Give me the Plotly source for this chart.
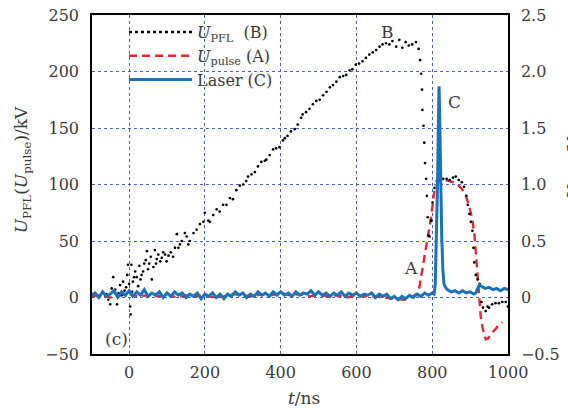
import plotly.graph_objects as go

# ---------------- data ----------------
# U_PFL (B), kV  (scatter of dots)
T_PFL = [-60, -55, -50, -46, -42, -37, -32, -28, -24, -20, -16, -12, -8, -5, -3, 0, 3, 4, 6, 8,
         10, 13, 16, 20, 24, 27, 30, 33, 37, 40, 44, 47, 50, 53, 57, 60, 64, 68, 71, 73,
         77, 82, 86, 90, 95, 99,
         104, 110, 116, 121, 126, 130, 134, 139, 147, 152, 156, 160, 170, 178, 187, 196, 200, 209, 213, 222,
         231, 239, 248, 257, 266, 274, 283, 292, 301, 309, 314, 323, 332, 340, 349, 358, 362, 371, 380, 388,
         397, 406, 411, 418, 427, 437, 445, 454, 458, 467, 476, 485, 494, 503, 512, 521, 530, 538, 547, 556,
         565, 573, 582, 589, 598, 607, 616, 625, 634, 643, 652, 661, 669, 678, 687, 695, 705, 713, 721, 730,
         738, 747, 757, 764, 768, 771, 773, 774, 777, 779, 781, 784, 786, 788, 790, 793, 797, 801, 806, 812,
         820, 829, 838, 846, 855, 862, 870, 878, 884, 890, 894, 898, 902, 906, 909, 911, 915, 920, 925, 930,
         934, 941, 946, 950, 958, 967, 976, 985, 994, 1000]
V_PFL = [3, -2, -6, 8, 18, 7, -6, 4, 11, 2, 14, 6, 9, 20, 29, 12, -8, -15, 29, 5,
         14, 18, 23, 18, 10, 28, 16, 20, 23, 30, 33, 41, 25, 30, 36, 16, 27, 42, 30, 34,
         38, 32, 35, 40, 38, 32,
         37, 40, 36, 44, 56, 44, 47, 50, 57, 54, 47, 50, 57, 60, 65, 67, 75, 68, 67, 73,
         78, 76, 82, 82, 88, 87, 95, 99, 100, 103, 107, 109, 111, 116, 120, 121, 122, 126, 131, 132,
         133, 139, 141, 143, 147, 149, 153, 159, 162, 164, 167, 171, 174, 175, 179, 182, 186, 188, 191, 195,
         196, 197, 201, 202, 206, 207, 209, 212, 215, 217, 219, 222, 224, 225, 224, 227, 222, 228, 221, 226,
         223, 224, 226, 220, 210, 198, 184, 166, 152, 137, 119, 105, 90, 71, 55, 54, 68, 84, 97, 103,
         104, 105, 105, 104, 106, 107, 104, 102, 98, 90, 82, 74, 67, 59, 44, 31, 20, 16, 12, -4,
         -9, -12, -8, -9, -6, -5, -5, -4, -4, -8]

# U_pulse (A), kV
T_PULSE = [-100, -75, -50, -25, 0, 25, 50, 75, 100, 125, 150, 175, 200, 225, 250, 275, 300, 325, 350, 375,
           400, 425, 450, 475, 500, 525, 550, 575, 600, 625, 650, 675, 700, 725, 740, 750, 758, 766, 772, 779,
           787, 797, 805, 812, 823, 835, 845, 855, 866, 878, 889, 896, 902, 907, 911, 915, 919, 924, 928, 933,
           937, 941, 948, 958, 967, 976, 985]
V_PULSE = [1, 2, 0, 2, 3, 1, 2, 1, 3, 0, 2, 1, 2, 0, 1, 3, 2, 1, 3, 2,
           4, 2, 3, 1, 2, 1, 2, 0, 2, 1, 1, 0, -1, -2, -1, 1, 3, 9, 20, 34,
           51, 71, 93, 100, 104, 104, 103, 102, 100, 96, 90, 83, 75, 66, 57, 40, 20, 1, -17, -27,
           -33, -37, -36, -31, -28, -24, -22]

# Laser (C), V
T_LASER = [-100, -90, -80, -70, -60, -50, -40, -30, -20, -10, 0, 10, 20, 30, 40, 50, 60, 70, 80, 90,
           100, 110, 120, 130, 140, 150, 160, 170, 180, 190, 200, 210, 220, 230, 240, 250, 260, 270, 280, 290,
           300, 310, 320, 330, 340, 350, 360, 370, 380, 390, 400, 410, 420, 430, 440, 450, 460, 470, 480, 490,
           500, 510, 520, 530, 540, 550, 560, 570, 580, 590, 600, 610, 620, 630, 640, 650, 660, 670, 680, 690,
           700, 710, 720, 730, 740, 750, 760, 770, 780, 790, 800, 805, 808, 811, 814, 816, 818, 820, 822, 825,
           828, 831, 835, 840, 850, 860, 870, 880, 890, 900, 910, 915, 920, 925, 930, 940, 950, 960, 970, 980,
           990, 1000]
V_LASER = [0.02, 0.04, 0.00, 0.05, 0.01, 0.03, 0.06, 0.00, 0.05, 0.02, 0.06, 0.01, 0.05, 0.02, 0.07, 0.01, 0.04, 0.02, 0.05, 0.00,
           0.04, 0.01, 0.05, 0.02, 0.04, 0.00, 0.03, 0.01, 0.04, -0.01, 0.03, 0.01, 0.04, 0.00, 0.03, -0.01, 0.03, 0.01, 0.05, 0.02,
           0.04, 0.00, 0.03, 0.01, 0.05, 0.02, 0.04, 0.01, 0.05, 0.02, 0.05, 0.02, 0.04, 0.01, 0.05, 0.02, 0.04, 0.03, 0.06, 0.02,
           0.05, 0.02, 0.04, 0.01, 0.04, 0.02, 0.05, 0.01, 0.04, 0.02, 0.04, 0.01, 0.03, 0.02, 0.04, 0.00, 0.03, 0.01, 0.03, -0.01,
           0.01, -0.02, 0.01, -0.01, 0.02, 0.00, 0.03, 0.01, 0.04, 0.02, 0.04, 0.03, 0.12, 0.45, 1.00, 1.50, 1.87, 1.55, 1.05, 0.55,
           0.25, 0.12, 0.09, 0.07, 0.05, 0.06, 0.04, 0.06, 0.04, 0.05, 0.03, 0.04, 0.08, 0.11, 0.10, 0.08, 0.09, 0.07, 0.08, 0.06,
           0.08, 0.07]

X_TICKS = [0, 200, 400, 600, 800, 1000]
Y_TICKS = [-50, 0, 50, 100, 150, 200, 250]
Y_TICKTEXT = ["\u221250", "0", "50", "100", "150", "200", "250"]
Y2_TICKS = [-0.5, 0, 0.5, 1.0, 1.5, 2.0, 2.5]
Y2_TICKTEXT = ["\u22120.5", "0", "0.5", "1.0", "1.5", "2.0", "2.5"]

# ---------------- styling ----------------
FONT = "DejaVu Serif"
TXT = "#3a3a3a"
GRID = "#4a62b8"
RED = "#e8262c"
BLUE = "#1b72b8"

fig = go.Figure()

fig.add_trace(go.Scatter(x=T_PULSE, y=V_PULSE, mode="lines", name="<i>U</i><sub>pulse</sub> (A)",
                         line=dict(color=RED, width=2.4, dash="8px,5px"), legendrank=2))
fig.add_trace(go.Scatter(x=T_LASER, y=V_LASER, mode="lines", name="Laser (C)", yaxis="y2",
                         line=dict(color=BLUE, width=3), legendrank=3))
fig.add_trace(go.Scatter(x=T_PFL, y=V_PFL, mode="markers", showlegend=False,
                         marker=dict(color="black", size=2.7)))
fig.add_trace(go.Scatter(x=[None], y=[None], mode="lines", name="<i>U</i><sub>PFL</sub>  (B)",
                         line=dict(color="black", width=2.5, dash="dot"), legendrank=1))

axis_common = dict(showline=True, linecolor="black", linewidth=1.5, ticks="", zeroline=False,
                   automargin=False, tickfont=dict(family=FONT, size=16, color=TXT))

fig.update_layout(
    width=568, height=408,
    margin=dict(l=92, r=60, t=15, b=54, autoexpand=False),
    paper_bgcolor="white", plot_bgcolor="white",
    font=dict(family=FONT, size=16, color=TXT),
    xaxis=dict(range=[-98, 1000], tickvals=X_TICKS, showgrid=True, gridcolor=GRID, griddash="dot",
               gridwidth=1, mirror=True, ticklabelstandoff=3, **axis_common),
    yaxis=dict(range=[-50, 250], tickvals=Y_TICKS, ticktext=Y_TICKTEXT, showgrid=True, gridcolor=GRID,
               griddash="dot", gridwidth=1, ticklabelstandoff=8, **axis_common),
    yaxis2=dict(range=[-0.5, 2.5], tickvals=Y2_TICKS, ticktext=Y2_TICKTEXT, overlaying="y", side="right",
                showgrid=False, ticklabelstandoff=8, **axis_common),
    legend=dict(x=0.077, y=1.0, xanchor="left", yanchor="top", bgcolor="rgba(0,0,0,0)",
                font=dict(family=FONT, size=16, color=TXT), tracegroupgap=0, itemwidth=63),
    showlegend=True,
)

ann = [
    dict(text="<i>t</i>/ns", x=0.51, y=-0.13, xref="paper", yref="paper", showarrow=False,
         xanchor="center", yanchor="middle", font=dict(size=17)),
    dict(text="<i>U</i><sub>PFL</sub>(<i>U</i><sub>pulse</sub>)/kV", x=-0.165, y=0.543, xref="paper",
         yref="paper", showarrow=False, textangle=-90, xanchor="center", yanchor="middle", font=dict(size=17)),
    dict(text="<i>U</i><sub>laser</sub>/V", x=(561 - 92) / 416, y=0.55, xref="paper", yref="paper",
         showarrow=False, textangle=-90, xanchor="left", yanchor="middle", font=dict(size=17)),
    dict(text="B", x=681, y=235, showarrow=False, font=dict(size=17)),
    dict(text="C", x=860, y=173, showarrow=False, font=dict(size=17)),
    dict(text="A", x=744, y=26, showarrow=False, font=dict(size=17)),
    dict(text="(c)", x=-34, y=-37, showarrow=False, font=dict(size=17)),
]
fig.update_layout(annotations=ann)

fig.write_html("out.html", config={"displayModeBar": False},
               post_script="document.body.style.margin='0px';")
